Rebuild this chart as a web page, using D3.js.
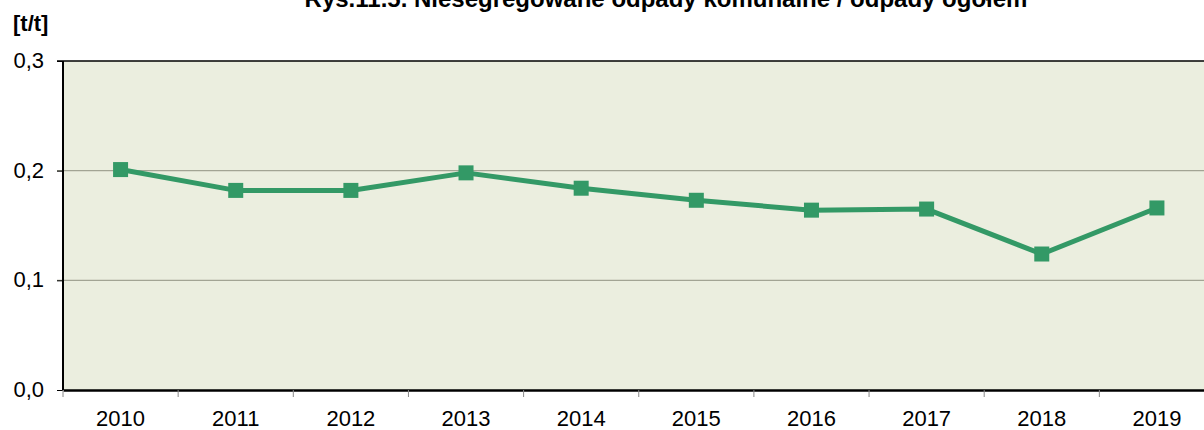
<!DOCTYPE html>
<html><head><meta charset="utf-8">
<script src="https://cdn.jsdelivr.net/npm/d3@7"></script>
<style>body{margin:0;background:#fff;}svg{display:block;font-family:Arial,"Liberation Sans",sans-serif;}</style>
</head><body><svg id="c" width="1204" height="430"></svg>
<script>
const categories = ["2010","2011","2012","2013","2014","2015","2016","2017","2018","2019"];
const values = [0.201,0.182,0.182,0.198,0.184,0.173,0.164,0.165,0.124,0.166];
const yTicks = [0,0.1,0.2,0.3];
const title = "Rys.11.5. Niesegregowane odpady komunalne / odpady ogółem";
const unit = "[t/t]";

const svg = d3.select("#c");
const m = {l:63, t:61, r:1214.5, b:390};
const x = d3.scaleBand().domain(categories).range([m.l, m.r]);
const y = d3.scaleLinear().domain([0,0.3]).range([m.b, m.t]);
const FF = "Arial,'Liberation Sans',sans-serif";

svg.append("rect").attr("x",m.l).attr("y",m.t).attr("width",m.r-m.l).attr("height",m.b-m.t).attr("fill","#ebeedf");
svg.append("g").selectAll("line").data(yTicks.filter(d=>d>0&&d<0.3)).join("line")
  .attr("x1",m.l-6).attr("x2",m.r).attr("y1",d=>y(d)).attr("y2",d=>y(d)).attr("stroke","#a2a494").attr("stroke-width",1.2);
// border
svg.append("line").attr("x1",m.l-6).attr("x2",m.r).attr("y1",m.t).attr("y2",m.t).attr("stroke","#000").attr("stroke-width",1.5);
svg.append("line").attr("x1",m.l).attr("x2",m.l).attr("y1",m.t).attr("y2",m.b).attr("stroke","#000").attr("stroke-width",2);

// y axis
const ya = svg.append("g").attr("transform",`translate(${m.l},0)`)
  .call(d3.axisLeft(y).tickValues(yTicks).tickSize(6).tickPadding(13).tickFormat(d=>d3.format(".1f")(d).replace(".",",")));
ya.select(".domain").remove();
ya.selectAll("line").attr("stroke","#000");
ya.selectAll("text").attr("font-size",22).attr("fill","#000").attr("font-family",FF).attr("dy","0.3em");

// x axis
const xa = svg.append("g").attr("transform",`translate(0,${m.b})`)
  .call(d3.axisBottom(x).tickSize(0).tickPadding(0));
xa.select(".domain").attr("stroke","#000").attr("stroke-width",2.5);
xa.selectAll("text").attr("font-size",22).attr("fill","#000").attr("font-family",FF).attr("dy",null).attr("y",36);
svg.append("g").selectAll("line").data(categories).join("line")
  .attr("x1",d=>x(d)).attr("x2",d=>x(d)).attr("y1",m.b).attr("y2",m.b+7).attr("stroke","#888").attr("stroke-width",1);

// line
const cx = d=>x(d)+x.bandwidth()/2;
svg.append("path").datum(values).attr("fill","none").attr("stroke","#339966").attr("stroke-width",5).attr("stroke-linejoin","round")
  .attr("d", d3.line().x((d,i)=>cx(categories[i])).y(d=>y(d)));
svg.append("g").selectAll("rect").data(values).join("rect")
  .attr("x",(d,i)=>cx(categories[i])-7.5).attr("y",d=>y(d)-7.5).attr("width",15).attr("height",15).attr("fill","#339966");

svg.append("text").attr("x",666).attr("y",7).attr("text-anchor","middle").attr("font-size",24).attr("font-weight","bold").attr("font-family",FF).text(title);
svg.append("text").attr("x",13).attr("y",31).attr("font-size",22).attr("font-weight","bold").attr("font-family",FF).text(unit);
</script></body></html>
